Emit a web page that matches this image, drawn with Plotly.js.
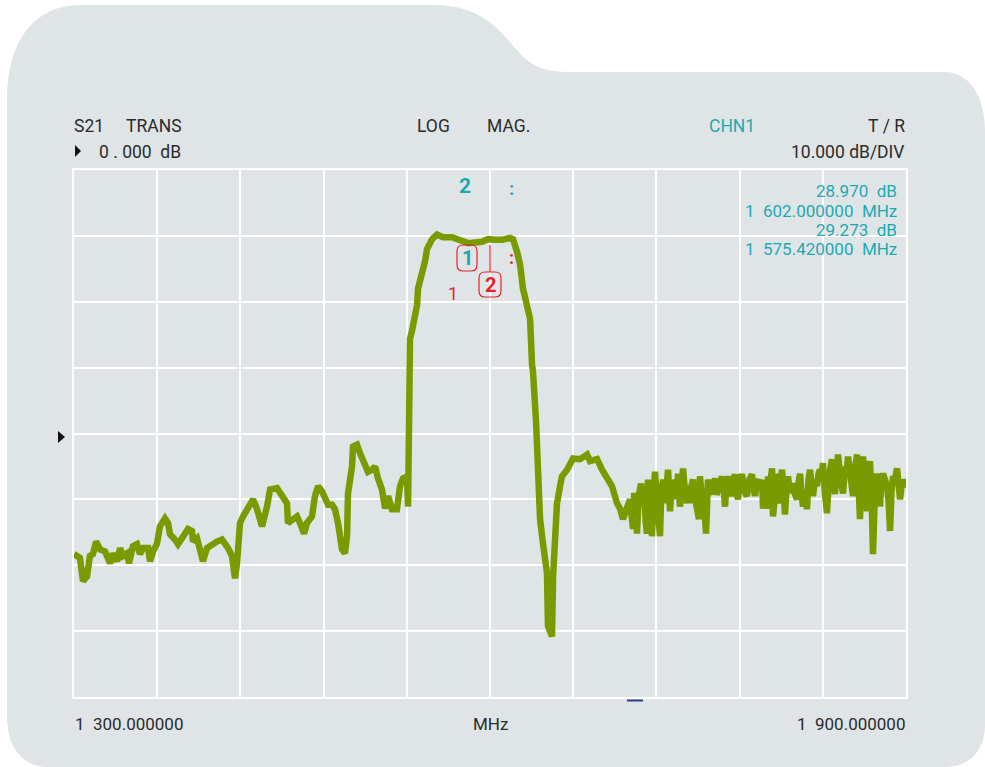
<!DOCTYPE html>
<html>
<head>
<meta charset="utf-8">
<script src="https://cdn.plot.ly/plotly-3.0.1.min.js"></script>
<style>html,body{margin:0;padding:0;background:#fff;}#chart{width:985px;height:767px;}</style>
</head>
<body>
<div id="chart"></div>
<script>
// S21 transmission trace, frequency in MHz and magnitude in dB
const freqMHz = [
1300.0,1304.3,1306.5,1309.4,1311.5,1313.7,1315.9,1318.8,1322.4,1326.0,1328.1,1331.0,1333.2,1335.3,1338.2,1339.7,
1342.5,1345.4,1347.6,1349.8,1353.4,1354.8,1357.0,1359.9,1362.0,1365.6,1367.8,1369.2,1372.8,1375.0,1377.9,1382.2,
1385.1,1385.8,1388.7,1390.9,1393.0,1395.9,1399.5,1403.1,1406.7,1408.9,1411.1,1413.9,1414.7,1416.1,1417.6,1419.7,
1421.9,1425.5,1429.1,1432.0,1435.6,1439.2,1441.4,1446.4,1450.0,1453.6,1454.3,1457.9,1460.8,1463.0,1465.9,1468.0,
1471.6,1473.8,1476.0,1478.9,1481.0,1483.2,1486.1,1488.2,1490.4,1493.3,1495.4,1496.9,1497.6,1500.5,1501.2,1504.1,
1506.3,1508.4,1512.0,1514.9,1517.1,1519.2,1522.1,1524.3,1526.5,1529.3,1532.9,1535.1,1537.3,1540.2,1540.9,1541.6,
1542.3,1543.7,1547.4,1548.1,1551.0,1553.1,1554.6,1558.2,1561.8,1566.1,1572.6,1578.4,1584.2,1594.2,1598.6,1603.6,
1608.7,1614.4,1616.6,1619.5,1621.7,1623.8,1626.7,1628.9,1630.3,1631.0,1633.2,1634.6,1636.1,1638.2,1641.1,1641.8,
1644.7,1645.5,1646.9,1648.3,1650.5,1651.9,1655.6,1659.9,1664.9,1670.0,1672.1,1677.2,1680.8,1684.4,1688.0,1691.6,
1693.8,1695.9,1698.8,1701.0,
1703.1,1704.0,1705.2,1706.0,1707.2,1708.9,1710.0,1711.2,1712.3,1713.2,1713.9,1715.0,1716.0,1716.8,1718.0,1719.0,
1720.2,1721.2,1722.6,1723.5,1724.8,1726.2,1727.3,1728.4,1729.8,1731.0,1732.0,1733.5,1734.5,1735.6,1737.0,1738.2,
1739.2,1740.5,1742.1,1743.0,1744.2,1745.3,1746.4,1747.5,1749.3,1750.7,1751.4,1752.5,1753.6,1754.7,1755.8,1757.2,
1758.5,1760.1,1761.2,1762.3,1763.4,1764.4,1765.8,1767.3,1768.5,1769.5,1770.5,1771.6,1773.0,1774.5,1775.6,1776.7,
1777.8,1778.8,1780.2,1781.7,1783.5,1785.3,1787.0,1788.9,1790.0,1791.1,1792.5,1794.0,1795.0,1796.2,1796.9,1798.3,
1799.8,1800.5,1801.8,1803.4,1804.1,1805.5,1807.0,1807.7,1809.0,1810.6,1811.7,1812.7,1814.0,1814.9,1816.3,1817.8,
1819.5,1821.4,1822.5,1823.6,1824.6,1825.7,1827.0,1828.6,1829.7,1830.8,1832.0,1832.9,1834.5,1835.8,1837.0,1838.0,
1839.0,1840.1,1841.5,1843.0,1844.5,1845.5,1846.6,1847.7,1848.8,1850.0,1851.0,1852.5,1853.5,1854.6,1856.0,1857.2,
1858.2,1859.5,1860.6,1861.8,1863.0,1864.7,1865.8,1866.8,1868.0,1869.0,1870.5,1871.9,1873.0,1874.0,1875.2,1876.2,
1877.6,1879.1,1880.2,1881.2,1882.3,1883.4,1884.8,1886.3,1887.5,1888.5,1889.5,1890.6,1892.0,1893.5,1894.6,1895.7,
1896.8,1897.8,1899.0,1900.0
];
const s21dB = [
-18.3,-18.9,-22.4,-21.7,-18.6,-18.3,-16.4,-17.6,-17.9,-19.7,-18.2,-19.4,-17.4,-18.6,-18.2,-19.7,
-17.1,-16.8,-18.3,-17.4,-17.4,-19.4,-17.9,-16.7,-14.1,-12.9,-13.6,-15.3,-16.1,-16.8,-15.9,-14.5,
-14.8,-16.4,-15.9,-17.4,-19.4,-17.4,-16.8,-16.4,-16.1,-16.7,-17.4,-18.6,-21.2,-22.0,-19.7,-13.6,
-12.6,-11.5,-10.0,-11.5,-14.1,-11.1,-8.5,-8.3,-9.5,-10.6,-13.6,-13.0,-12.6,-13.6,-15.2,-13.6,
-12.6,-9.5,-8.0,-8.8,-9.8,-10.8,-10.8,-11.5,-13.6,-17.6,-18.2,-15.6,-9.1,-5.0,-2.0,-1.7,
-3.0,-3.9,-5.8,-5.5,-5.0,-6.8,-8.5,-11.4,-9.5,-11.5,-11.5,-8.0,-6.8,-6.5,-11.1,1.1,
14.4,15.5,19.5,22.0,24.1,26.1,28.0,29.5,30.2,29.8,29.8,29.4,28.9,29.1,29.5,29.4,
29.4,29.7,29.5,27.6,25.6,22.0,19.5,17.4,10.5,9.4,1.8,-6.1,-13.0,-16.7,-21.2,-29.2,
-30.8,-21.7,-13.6,-10.6,-8.0,-6.5,-5.5,-3.8,-3.9,-3.2,-4.2,-3.9,-5.5,-6.8,-8.0,-10.6,
-11.4,-13.0,-11.5,-10.0,
-14.5,-9.0,-12.5,-15.2,-9.5,-7.6,-11.0,-8.5,-13.5,-15.2,-7.0,-10.5,-8.5,-15.6,-9.0,-5.8,
-9.5,-12.6,-15.6,-9.0,-7.0,-10.6,-8.0,-5.5,-11.8,-8.0,-9.1,-7.0,-10.0,-6.1,-11.1,-7.5,
-5.3,-8.5,-10.6,-7.8,-10.6,-8.0,-7.0,-9.5,-11.5,-13.0,-6.5,-9.0,-8.5,-11.0,-15.2,-7.0,
-8.8,-9.1,-7.2,-6.8,-9.3,-8.5,-7.0,-6.5,-8.5,-11.1,-7.8,-6.5,-8.0,-9.5,-7.0,-6.2,
-8.8,-10.0,-7.0,-6.2,-8.8,-9.5,-7.0,-6.2,-8.0,-9.5,-7.5,-7.0,-8.5,-7.0,-11.4,-9.0,
-11.4,-6.5,-8.0,-5.3,-12.6,-8.0,-6.1,-10.6,-7.5,-5.5,-8.5,-12.3,-8.0,-6.5,-9.0,-7.6,
-9.0,-10.0,-7.5,-6.1,-9.0,-11.1,-8.5,-11.5,-7.0,-5.5,-8.0,-9.5,-7.0,-8.0,-6.0,-5.5,
-7.0,-4.5,-9.0,-12.1,-6.5,-5.0,-3.9,-7.5,-9.2,-5.5,-3.2,-6.5,-8.0,-9.1,-5.0,-6.0,
-3.5,-6.5,-8.0,-9.5,-5.5,-3.2,-8.0,-13.0,-6.0,-3.5,-6.5,-11.8,-6.0,-4.2,-10.0,-18.3,
-9.0,-6.1,-8.0,-11.1,-7.0,-6.1,-7.0,-8.0,-10.5,-14.8,-9.0,-6.5,-7.0,-5.3,-7.5,-10.0,
-8.0,-7.0,-8.0,-7.7
];
const headerLeft = ['S21', 'TRANS'];
const headerMid = ['LOG', 'MAG.'];
const channel = 'CHN1';
const ratio = 'T / R';
const refLevel = '0 . 000  dB';
const scale = '10.000 dB/DIV';
const readout = ['28.970  dB', '1  602.000000  MHz', '29.273  dB', '1  575.420000  MHz'];
const startLabel = '1  300.000000';
const stopLabel = '1  900.000000';
const unitLabel = 'MHz';

// geometry helpers: pixel -> paper (plot area 74..906 x 170..697)
const L = 74, R = 906, T = 170, B = 697;
const X = px => (px - L) / (R - L);
const Y = py => (B - py) / (B - T);
const pt = (px, py) => X(px).toFixed(5) + ',' + Y(py).toFixed(5);
function rrect(x0, y0, x1, y1, r) {
  return 'M' + pt(x0 + r, y0) + ' L' + pt(x1 - r, y0) + ' Q' + pt(x1, y0) + ' ' + pt(x1, y0 + r) +
    ' L' + pt(x1, y1 - r) + ' Q' + pt(x1, y1) + ' ' + pt(x1 - r, y1) +
    ' L' + pt(x0 + r, y1) + ' Q' + pt(x0, y1) + ' ' + pt(x0, y1 - r) +
    ' L' + pt(x0, y0 + r) + ' Q' + pt(x0, y0) + ' ' + pt(x0 + r, y0) + ' Z';
}
const tabPath = 'M' + pt(7, 100) + ' C' + pt(7, 40) + ' ' + pt(35, 5) + ' ' + pt(80, 5) +
  ' L' + pt(435, 5) + ' C' + pt(480, 5) + ' ' + pt(500, 30) + ' ' + pt(515, 48) +
  ' C' + pt(532, 68) + ' ' + pt(545, 72) + ' ' + pt(572, 72) +
  ' L' + pt(945, 72) + ' C' + pt(968, 72) + ' ' + pt(985, 95) + ' ' + pt(985, 130) +
  ' L' + pt(985, 725) + ' C' + pt(985, 752) + ' ' + pt(968, 767) + ' ' + pt(945, 767) +
  ' L' + pt(50, 767) + ' C' + pt(22, 767) + ' ' + pt(7, 748) + ' ' + pt(7, 715) + ' Z';

const BG = '#dfe5e7', TXT = '#2b2b2b', TEAL = '#1ea9b1', RED = '#e8212b';
const FONT = 'Roboto, "DejaVu Sans", sans-serif';

function ann(text, px, py, anchor, color, size, extra) {
  return Object.assign({text: text, xref: 'paper', yref: 'paper', x: X(px), y: Y(py),
    xanchor: anchor, yanchor: 'middle', showarrow: false,
    font: {family: FONT, size: size || 17, color: color || TXT}}, extra || {});
}
const nb = s => s.replace(/ /g, '\u00a0');

const annotations = [
  ann(headerLeft[0], 72, 126, 'left', TXT, 17.5),
  ann(headerLeft[1], 124, 126, 'left', TXT, 17.5),
  ann(headerMid[0], 415, 126, 'left', TXT, 17.5),
  ann(headerMid[1], 485, 126, 'left', TXT, 17.5),
  ann(channel, 707, 126, 'left', TEAL, 17.5),
  ann(nb(ratio), 907, 126, 'right', TXT, 17.5),
  ann(nb(refLevel), 97, 152, 'left', TXT, 17.5),
  ann(scale, 907, 152, 'right', TXT, 17.5),
  ann('<b>2</b>', 465, 186, 'center', TEAL, 21),
  ann('<b>:</b>', 511, 188, 'center', TEAL, 19),
  ann(nb(readout[0]), 899, 191, 'right', TEAL),
  ann(nb(readout[1]), 899, 211, 'right', TEAL),
  ann(nb(readout[2]), 899, 230, 'right', TEAL),
  ann(nb(readout[3]), 899, 249, 'right', TEAL),
  ann('<b>1</b>', 467, 258, 'center', TEAL, 20),
  ann('<b>2</b>', 490, 285, 'center', RED, 20),
  ann('<b>:</b>', 511, 257, 'center', RED, 18),
  ann('1', 453, 293, 'center', RED, 18),
  ann(nb(startLabel), 73, 724, 'left'),
  ann(unitLabel, 490, 724, 'center'),
  ann(nb(stopLabel), 907, 724, 'right')
];

const shapes = [
  {type: 'path', xref: 'paper', yref: 'paper', path: tabPath, fillcolor: BG, line: {width: 0}, layer: 'below'},
  {type: 'path', xref: 'paper', yref: 'paper', path: rrect(457, 245, 477, 271, 6), line: {color: RED, width: 1.2}, layer: 'above'},
  {type: 'path', xref: 'paper', yref: 'paper', path: rrect(479, 272, 501, 297, 6), line: {color: RED, width: 1.2}, layer: 'above'},
  {type: 'line', xref: 'paper', yref: 'paper', x0: X(490), x1: X(490), y0: Y(245), y1: Y(272), line: {color: RED, width: 1.2}},
  {type: 'path', xref: 'paper', yref: 'paper', path: 'M' + pt(75, 145) + ' L' + pt(81, 151) + ' L' + pt(75, 157) + ' Z', fillcolor: '#111', line: {width: 0}},
  {type: 'path', xref: 'paper', yref: 'paper', path: 'M' + pt(58, 431) + ' L' + pt(65, 437) + ' L' + pt(58, 443) + ' Z', fillcolor: '#111', line: {width: 0}},
  {type: 'line', xref: 'paper', yref: 'paper', x0: X(627), x1: X(643), y0: Y(700.5), y1: Y(700.5), line: {color: '#2b3d8f', width: 2}}
];

const trace = {
  x: freqMHz, y: s21dB, type: 'scatter', mode: 'lines',
  line: {color: '#7a9b00', width: 6.5, shape: 'linear'},
  hoverinfo: 'skip'
};

const layout = {
  width: 985, height: 767, autosize: false,
  margin: {l: L, r: 985 - R, t: T, b: 767 - B, pad: 0},
  paper_bgcolor: '#ffffff', plot_bgcolor: 'rgba(0,0,0,0)',
  showlegend: false,
  xaxis: {range: [1300, 1900], dtick: 60, tick0: 1300, showgrid: true, gridcolor: '#ffffff', gridwidth: 2,
    showticklabels: false, ticks: '', zeroline: false, showline: true, mirror: true, linecolor: '#ffffff', linewidth: 2, fixedrange: true},
  yaxis: {range: [-40, 40], dtick: 10, tick0: 0, showgrid: true, gridcolor: '#ffffff', gridwidth: 2,
    showticklabels: false, ticks: '', zeroline: false, showline: true, mirror: true, linecolor: '#ffffff', linewidth: 2, fixedrange: true},
  annotations: annotations,
  shapes: shapes
};

Plotly.newPlot('chart', [trace], layout, {staticPlot: true, displayModeBar: false});
</script>
</body>
</html>
